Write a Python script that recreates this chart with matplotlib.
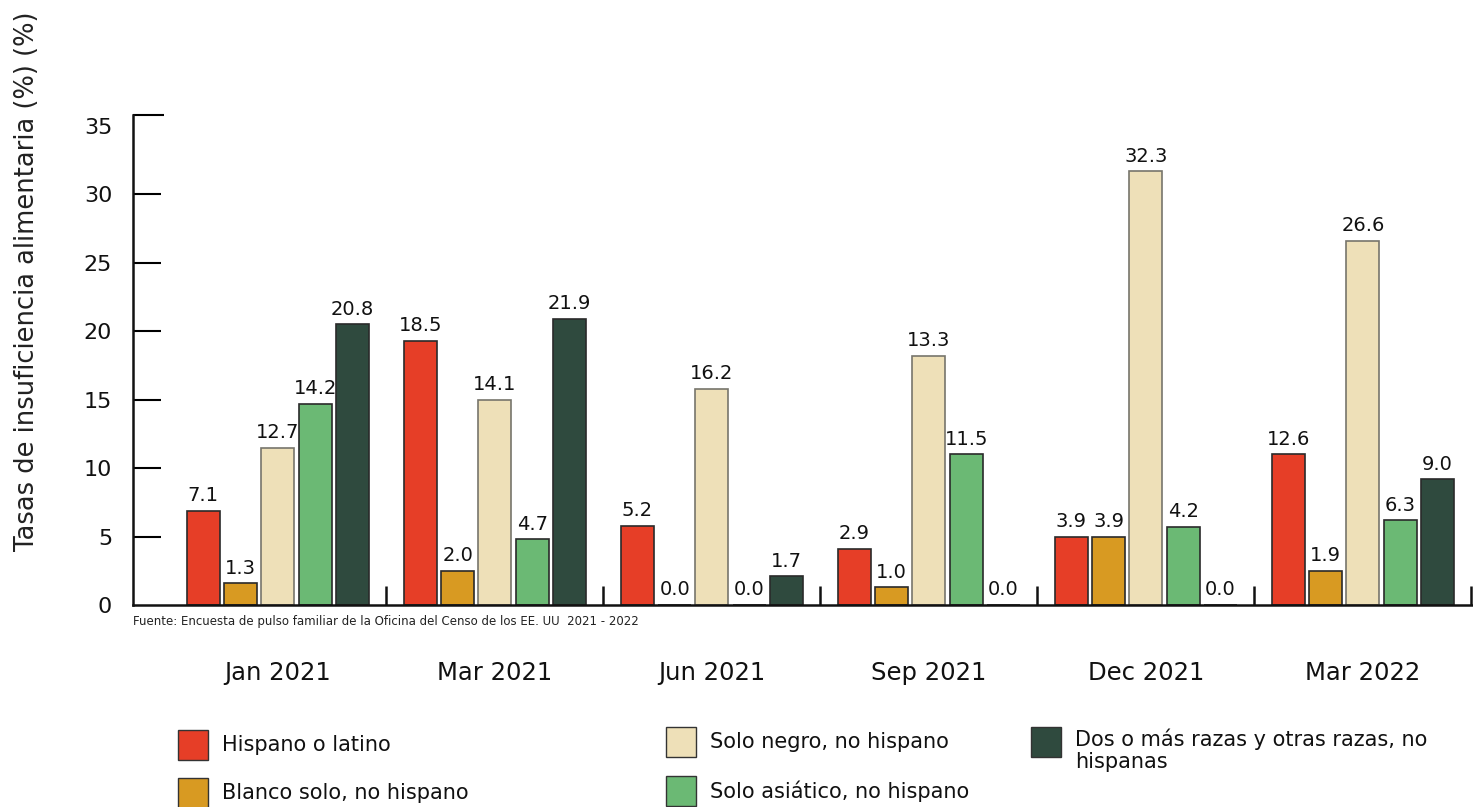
import numpy as np
import matplotlib.pyplot as plt
from matplotlib.patches import Rectangle

# grupos (encuestas) y series
months = ["Jan 2021", "Mar 2021", "Jun 2021", "Sep 2021", "Dec 2021", "Mar 2022"]
series = ["Hispano o latino", "Blanco solo, no hispano", "Solo negro, no hispano",
          "Solo asiático, no hispano", "Dos o más razas y otras razas, no\nhispanas"]
colors = ["#E63E27", "#D89A22", "#EEE0B8", "#6BB974", "#2F4A3E"]

# altura de las barras tal como están dibujadas
hispano = [6.9, 19.3, 5.8, 4.1, 5.0, 11.0]
blanco = [1.6, 2.5, 0.0, 1.3, 5.0, 2.5]
negro = [11.5, 15.0, 15.8, 18.2, 31.7, 26.6]
asiatico = [14.7, 4.8, 0.0, 11.0, 5.7, 6.2]
dos_mas = [20.5, 20.9, 2.1, 0.0, 0.0, 9.2]

# etiquetas impresas encima de cada barra
hispano_lbl = ["7.1", "18.5", "5.2", "2.9", "3.9", "12.6"]
blanco_lbl = ["1.3", "2.0", "0.0", "1.0", "3.9", "1.9"]
negro_lbl = ["12.7", "14.1", "16.2", "13.3", "32.3", "26.6"]
asiatico_lbl = ["14.2", "4.7", "0.0", "11.5", "4.2", "6.3"]
dos_mas_lbl = ["20.8", "21.9", "1.7", "0.0", "0.0", "9.0"]

yticks = [0, 5, 10, 15, 20, 25, 30, 35]
source = "Fuente: Encuesta de pulso familiar de la Oficina del Censo de los EE. UU  2021 - 2022"
ylabel = "Tasas de insuficiencia alimentaria (%) (%)"

plt.rcParams['font.family'] = ['DejaVu Sans']

W, H = 1473, 807
fig = plt.figure(figsize=(W / 100, H / 100), dpi=100)
ax = fig.add_axes([133 / W, 1 - 605 / H, 1 - 133 / W, (605 - 115) / H])

values = [hispano, blanco, negro, asiatico, dos_mas]
labels = [hispano_lbl, blanco_lbl, negro_lbl, asiatico_lbl, dos_mas_lbl]
edges = ["#2a2a2a", "#2a2a2a", "#77756c", "#2a2a2a", "#2a2a2a"]

x = np.arange(len(months))
step, width = 0.172, 0.152
for i in range(len(series)):
    pos = x + (i - 2) * step
    ax.bar(pos, values[i], width, color=colors[i], edgecolor=edges[i], linewidth=1.2)
    for p, v, t in zip(pos, values[i], labels[i]):
        ax.annotate(t, (p, v), xytext=(0, 4), textcoords='offset points',
                    ha='center', va='bottom', fontsize=14, color='#111111')

ax.set_xlim(-0.668, 5.507)
ax.set_ylim(0, 35.8)

for s in ['top', 'right']:
    ax.spines[s].set_visible(False)
for s in ['left', 'bottom']:
    ax.spines[s].set_linewidth(1.8)
    ax.spines[s].set_color('#111111')

# eje y: marcas hacia dentro, tapa arriba
ax.set_yticks(yticks)
ax.set_yticklabels([str(v) for v in yticks], fontsize=16, color='#111111')
ax.set_yticks([35.8], minor=True)
ax.tick_params(axis='y', which='major', direction='in', length=20, width=1.5, pad=15)
ax.tick_params(axis='y', which='minor', direction='in', length=22, width=1.5)
for t in ax.yaxis.get_major_ticks():
    if t.get_loc() in (0, 35):
        t.tick1line.set_visible(False)

# eje x: etiquetas de grupo y separadores
ax.set_xticks(x)
ax.set_xticklabels(months, fontsize=17.5, color='#111111')
ax.set_xticks(list(x + 0.5), minor=True)
ax.tick_params(axis='x', which='major', length=0, pad=40)
ax.tick_params(axis='x', which='minor', direction='in', length=14, width=1.8, color='#111111')

fig.text(27 / W, 1 - 281 / H, ylabel, rotation=90, ha='center', va='center',
         fontsize=18.5, color='#222222')
fig.text(133 / W, 1 - 622 / H, source, ha='left', va='center', fontsize=8.5, color='#222222')

# leyenda dibujada a mano en tres columnas
leg_pos = [(178, 745), (178, 793), (666, 742), (666, 791), (1031, 742)]
for i, (px, py) in enumerate(leg_pos):
    fig.patches.append(Rectangle((px / W, 1 - (py + 15) / H), 30 / W, 30 / H,
                                 transform=fig.transFigure, facecolor=colors[i],
                                 edgecolor='#333333', linewidth=1))
    if '\n' in series[i]:
        fig.text((px + 44) / W, 1 - (py - 14) / H, series[i], ha='left', va='top',
                 fontsize=15, color='#111111', linespacing=1.15)
    else:
        fig.text((px + 44) / W, 1 - py / H, series[i], ha='left', va='center',
                 fontsize=15, color='#111111')

fig.savefig('out.png', dpi=100)
